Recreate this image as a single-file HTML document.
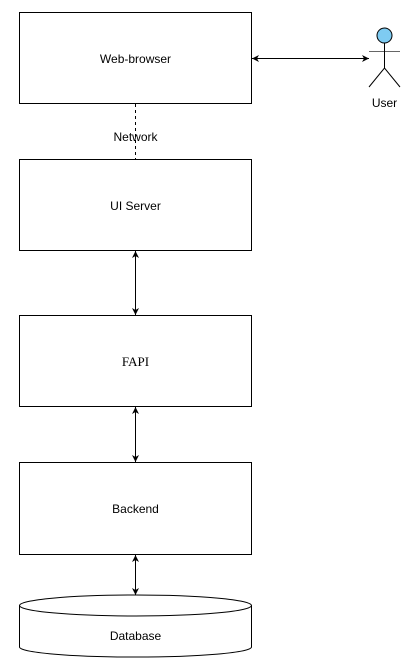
<!DOCTYPE html>
<html><head><meta charset="utf-8"><style>html,body{margin:0;padding:0;background:#fff}svg{display:block}</style></head>
<body>
<svg width="418" height="669" xmlns="http://www.w3.org/2000/svg">
<defs>
<marker id="a" markerWidth="8" markerHeight="8" refX="7" refY="4" orient="auto-start-reverse" markerUnits="userSpaceOnUse">
<path d="M0,0.5 L7,4 L0,7.5 L2,4 Z" fill="#000"/>
</marker>
</defs>
<g fill="#fff" stroke="#000" stroke-width="1">
<rect x="19.5" y="12.5" width="232" height="91"/>
<rect x="19.5" y="159.5" width="232" height="91"/>
<rect x="19.5" y="315.5" width="232" height="91"/>
<rect x="19.5" y="462.5" width="232" height="92"/>
<path d="M19.5,605.5 L19.5,647 A116,10 0 0 0 251.5,647 L251.5,605.5"/>
<ellipse cx="135.5" cy="605.5" rx="116" ry="10.5"/>
</g>
<line x1="135.5" y1="104" x2="135.5" y2="159" stroke="#000" stroke-dasharray="3,3"/>
<g stroke="#000" stroke-width="1" marker-start="url(#a)" marker-end="url(#a)">
<line x1="252" y1="58.5" x2="369" y2="58.5"/>
<line x1="135.5" y1="251" x2="135.5" y2="315"/>
<line x1="135.5" y1="407" x2="135.5" y2="462"/>
<line x1="135.5" y1="555" x2="135.5" y2="595"/>
</g>
<g stroke="#000" stroke-width="1" fill="none">
<line x1="369" y1="51.5" x2="400" y2="51.5" stroke="#666"/>
<line x1="384.5" y1="43" x2="384.5" y2="68"/>
<path d="M369,87 L384.5,68 L400,87"/>
</g>
<circle cx="384.5" cy="35.5" r="7.5" fill="#7ecbf2" stroke="#000"/>
<g font-family="Liberation Sans, sans-serif" font-size="12" fill="#000" text-anchor="middle">
<text x="135.5" y="63">Web-browser</text>
<text x="135.5" y="141">Network</text>
<text x="135.5" y="210">UI Server</text>
<text x="135.5" y="513">Backend</text>
<text x="135.5" y="640">Database</text>
<text x="384.5" y="107">User</text>
<text x="135.5" y="366" font-family="Liberation Serif, serif" font-size="13">FAPI</text>
</g>
</svg>
</body></html>
